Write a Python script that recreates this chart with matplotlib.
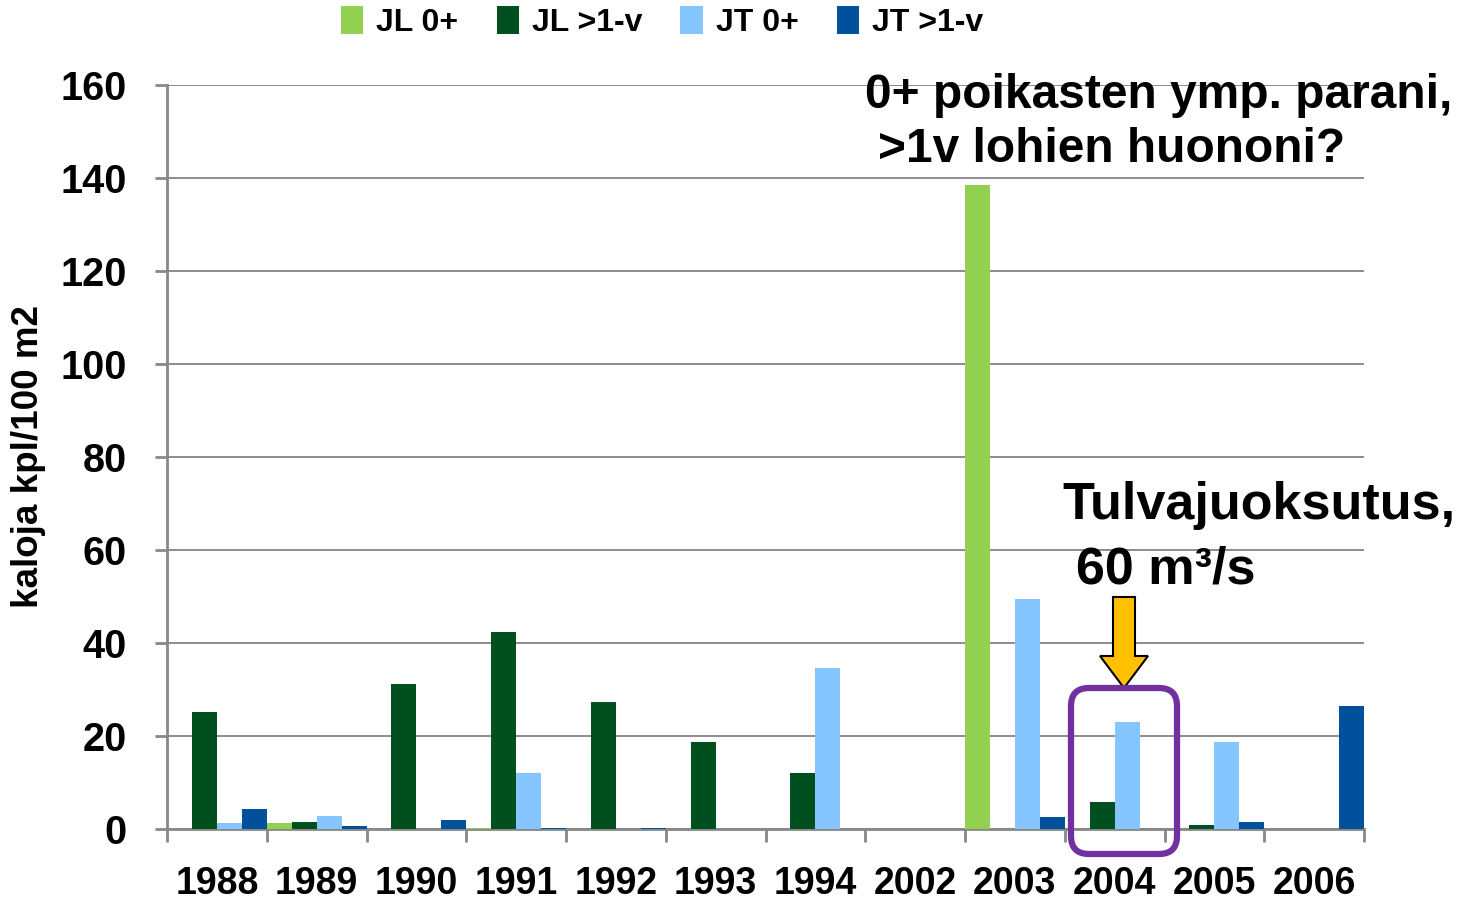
import matplotlib
matplotlib.use("Agg")
import numpy as np
import matplotlib.pyplot as plt
import matplotlib.patches as mpatches
from matplotlib.transforms import IdentityTransform

# ---------------------------------------------------------------------
# DATA
# ---------------------------------------------------------------------
years = ["1988", "1989", "1990", "1991", "1992", "1993", "1994",
         "2002", "2003", "2004", "2005", "2006"]
jl_0 = [0, 1.2, 0, 0.3, 0, 0, 0, 0, 138.5, 0, 0, 0]
jl_1v = [25.2, 1.6, 31.2, 42.4, 27.3, 18.7, 12.0, 0, 0, 5.9, 0.9, 0]
jt_0 = [1.3, 2.8, 0, 12.0, 0, 0, 34.6, 0, 49.5, 23.0, 18.7, 0]
jt_1v = [4.3, 0.6, 1.9, 0.3, 0.3, 0, 0, 0, 2.5, 0, 1.6, 26.5]

series = [("JL 0+", jl_0, "#92D050"),
          ("JL >1-v", jl_1v, "#00501F"),
          ("JT 0+", jt_0, "#86C6FF"),
          ("JT >1-v", jt_1v, "#00509C")]

plt.rcParams["font.family"] = ["Liberation Sans", "DejaVu Sans"]
plt.rcParams["font.weight"] = "bold"

W, H = 1478, 902
fig = plt.figure(figsize=(W / 100, H / 100), dpi=100)
ax = fig.add_axes([167 / W, 1 - 829 / H, (1364 - 167) / W, (829 - 85) / H])

x = np.arange(len(years))
bw = 0.25
for i, (name, vals, col) in enumerate(series):
    ax.bar(x + (i - 1.5) * bw, vals, bw, color=col, label=name, zorder=3)

ax.set_xlim(-0.5, len(years) - 0.5)
ax.set_ylim(0, 160)
ax.set_yticks(range(0, 161, 20))
ax.set_xticks(x)
ax.set_xticklabels(years)
ax.set_xticks(np.arange(-0.5, len(years), 1), minor=True)
ax.tick_params(axis="x", which="major", length=0, pad=27, labelsize=27)
ax.tick_params(axis="x", which="minor", length=9, width=2, color="#888888")
ax.tick_params(axis="y", length=9, width=2, color="#888888", labelsize=28.5, pad=20)
for lbl in ax.get_xticklabels() + ax.get_yticklabels():
    lbl.set_fontweight("bold")

ax.grid(axis="y", color="#8C8C8C", linewidth=1.4, zorder=0)
for s in ["top", "right"]:
    ax.spines[s].set_visible(False)
for s in ["left", "bottom"]:
    ax.spines[s].set_color("#888888")
    ax.spines[s].set_linewidth(2)

ax.set_ylabel("kaloja kpl/100 m2", fontsize=26.5, fontweight="bold")
ax.yaxis.set_label_coords((46 - 167) / (1364 - 167), 0.5)

leg = fig.legend(loc="center", bbox_to_anchor=(662 / W, 1 - 22 / H), ncol=4,
                 frameon=False, handlelength=0.7, handleheight=1.0,
                 handletextpad=0.4, columnspacing=1.2,
                 prop={"weight": "bold", "size": 23})

# annotations
fig.text(865 / W, 1 - 95 / H, "0+ poikasten ymp. parani,", fontsize=34.5,
         fontweight="bold", va="center", ha="left")
fig.text(878 / W, 1 - 150 / H, ">1v lohien huononi?", fontsize=34.5,
         fontweight="bold", va="center", ha="left")
fig.text(1062 / W, 1 - 505 / H, "Tulvajuoksutus,", fontsize=37.5,
         fontweight="bold", va="center", ha="left")
fig.text(1076 / W, 1 - 570 / H, "60 m³/s", fontsize=37.5,
         fontweight="bold", va="center", ha="left")

arrow = mpatches.FancyArrow(1124, H - 597, 0, -91, width=22, head_width=48,
                            head_length=32, length_includes_head=True,
                            facecolor="#FFC000", edgecolor="black", linewidth=1.5,
                            transform=IdentityTransform(), zorder=5)
fig.patches.append(arrow)

box = mpatches.FancyBboxPatch((1071, H - 854), 106, 166,
                              boxstyle="round,pad=0,rounding_size=18",
                              facecolor="none", edgecolor="#7030A0", linewidth=4.5,
                              transform=IdentityTransform(), zorder=6)
fig.patches.append(box)

fig.savefig("out.png", dpi=100)
